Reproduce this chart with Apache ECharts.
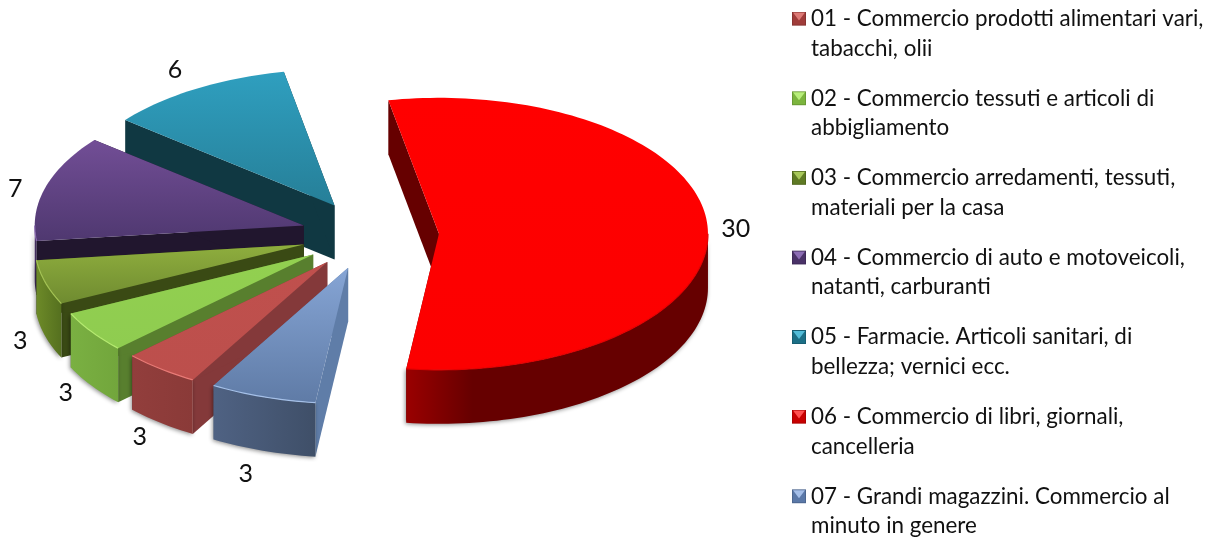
<!DOCTYPE html>
<html><head><meta charset="utf-8">
<script src="https://cdn.jsdelivr.net/npm/echarts@6/dist/echarts.min.js"></script>
<style>html,body{margin:0;padding:0;background:#fff}#c{width:1216px;height:543px}</style>
</head><body><div id="c"></div>
<script>
var CATEGORIES = [
  "01 - Commercio prodotti alimentari vari,\ntabacchi, olii",
  "02 - Commercio tessuti e articoli di\nabbigliamento",
  "03 - Commercio arredamenti, tessuti,\nmateriali per la casa",
  "04 - Commercio di auto e motoveicoli,\nnatanti, carburanti",
  "05 - Farmacie. Articoli sanitari, di\nbellezza; vernici ecc.",
  "06 - Commercio di libri, giornali,\ncancelleria",
  "07 - Grandi magazzini. Commercio al\nminuto in genere"
];
// Slice sizes; the labels show them rounded.
var VALUES = [2.5, 2.7, 2.9, 6.9, 6.1, 30.0, 3.49];

// styling and layout
var TOP_HI   = ['#c0504d','#92d050','#8fae3e','#724e96','#2f9fbf','#ff0000','#86a5d5'];
var TOP_LO   = ['#bc4f4c','#8fcc50','#6f8b30','#4f3870','#267f98','#fc0000','#5f7ba6'];
var EDGE     = ['#e87a76','#b5ea70','#a5c455','#8a6ab0','#50b8d5','#e40000','#a5c0e8'];
var CUT_WALL = ['#84393a','#587f2e','#3a4a14','#21162e','#103842','#660000','#5f7da8'];
var ARC_L    = ['#923e3c','#7ab042','#6d8a28','#4a3268','#1a5566','#9a0000','#4f6283'];
var ARC_R    = ['#8a3a38','#72a63c','#55701f','#3a2852','#143f4c','#660000','#3f4f68'];
var ICON_BODY= ['#a03c3a','#7cb53e','#5f7a24','#4a3268','#1c6f86','#c80000','#5a78a8'];
var ICON_TRI = ['#dd7a76','#b8ee7a','#a8c85a','#8c6cb4','#52bcd8','#ff5050','#a4bee8'];
var LABEL_NUDGE = [[-21,68],[-26,61],[-25,59],[-30,1],[-21,-19],[28,0],[-17,77]];
var CX = 370, CY = 235, RX = 269, RY = 136, EXPLODE = 69, DEPTH = 54, FIRST_ANGLE = 210;

var TOTAL = VALUES.reduce(function (a, b) { return a + b; }, 0);
var DRAW_ORDER = [5, 4, 3, 2, 1, 0, 6];   // back to front, by series index

function pt(ox, oy, deg) {
  var a = deg * Math.PI / 180;
  return [ox + RX * Math.sin(a), oy - RY * Math.cos(a)];
}
function arc(ox, oy, a0, a1) {
  var out = [], n = Math.max(2, Math.ceil(Math.abs(a1 - a0) / 1.5));
  for (var i = 0; i <= n; i++) out.push(pt(ox, oy, a0 + (a1 - a0) * i / n));
  return out;
}
function shift(p) { return [p[0], p[1] + DEPTH]; }
function sliceItem(idx) {
  return function (params, api) {
    var before = VALUES.slice(0, idx).reduce(function (a, b) { return a + b; }, 0);
    var a0 = FIRST_ANGLE + before / TOTAL * 360;
    var a1 = a0 + api.value(0) / TOTAL * 360;
    var mid = (a0 + a1) / 2, m = mid * Math.PI / 180;
    var ox = CX + EXPLODE * Math.sin(m), oy = CY - EXPLODE * 0.5 * Math.cos(m);
    var apex = [ox, oy], s = pt(ox, oy, a0), e = pt(ox, oy, a1);
    var kids = [];
    function wall(p, q, fill) {
      kids.push({type: 'polygon', shape: {points: [p, q, shift(q), shift(p)]}, style: {fill: fill}});
    }
    wall(apex, s, CUT_WALL[idx]);
    wall(apex, e, CUT_WALL[idx]);
    // front-facing part of the rim
    var f0 = Math.max(a0, 90), f1 = Math.min(a1, 270);
    var f0b = Math.max(a0 - 360, 90), f1b = Math.min(a1 - 360, 270);
    if (f0b < f1b) { f0 = f0b; f1 = f1b; }
    if (f0 < f1) {
      var rim = arc(ox, oy, f0, f1);
      var stops = idx === 5
        ? [{offset: 0, color: ARC_L[idx]}, {offset: 0.22, color: ARC_R[idx]}, {offset: 1, color: ARC_R[idx]}]
        : [{offset: 0, color: ARC_L[idx]}, {offset: 1, color: ARC_R[idx]}];
      kids.push({
        type: 'polygon',
        shape: {points: rim.concat(rim.map(shift).reverse())},
        style: {
          fill: new echarts.graphic.LinearGradient(0, 0, 1, 0, stops),
          shadowBlur: 4, shadowColor: 'rgba(0,0,0,0.45)', shadowOffsetX: -1, shadowOffsetY: 1
        }
      });
    }
    var top = arc(ox, oy, a0, a1);
    kids.push({
      type: 'polygon',
      shape: {points: [apex].concat(top)},
      style: {fill: new echarts.graphic.LinearGradient(0, 0, 0, 1, [
        {offset: 0, color: TOP_HI[idx]}, {offset: 1, color: TOP_LO[idx]}])}
    });
    if (f0 < f1) {
      kids.push({type: 'polyline', shape: {points: arc(ox, oy, f0, f1)},
        style: {stroke: EDGE[idx], lineWidth: 1.2, fill: null}});
    }
    var lp = pt(ox, oy, mid);
    kids.push({
      type: 'text',
      style: {
        text: String(Math.round(api.value(0))),
        x: lp[0] + LABEL_NUDGE[idx][0], y: lp[1] + LABEL_NUDGE[idx][1],
        fill: '#111', fontFamily: 'Lato', fontSize: 25,
        align: 'center', verticalAlign: 'middle'
      }
    });
    return {type: 'group', children: kids};
  };
}
function iconFor(i) {
  var svg = '<svg xmlns="http://www.w3.org/2000/svg" width="14" height="44" viewBox="0 0 14 44" preserveAspectRatio="none">' +
    '<rect x="0" y="0" width="14" height="14" fill="' + ICON_BODY[i] + '"/>' +
    '<polygon points="1,1 13,1 7,9" fill="' + ICON_TRI[i] + '"/>' +
    '<rect x="0.5" y="0.5" width="13" height="13" fill="none" stroke="#000" stroke-opacity="0.15"/></svg>';
  return 'image://data:image/svg+xml;charset=utf-8,' + encodeURIComponent(svg);
}

var chart = echarts.init(document.getElementById('c'), null, {renderer: 'canvas'});
chart.setOption({
  animation: false,
  backgroundColor: '#fff',
  legend: {
    orient: 'vertical', left: 792, top: 4,
    itemWidth: 14, itemHeight: 44, itemGap: 20.4, padding: 0,
    selectedMode: false,
    textStyle: {fontFamily: 'Lato', fontSize: 22.4, lineHeight: 29.6, color: '#111'},
    data: CATEGORIES.map(function (n, i) { return {name: n, icon: iconFor(i)}; })
  },
  series: CATEGORIES.map(function (n, i) {
    return {
      type: 'custom', name: n, coordinateSystem: 'none', silent: true,
      z: 2 + DRAW_ORDER.indexOf(i),
      itemStyle: {color: TOP_HI[i]},
      renderItem: sliceItem(i),
      data: [{name: n, value: VALUES[i]}]
    };
  })
});
</script></body></html>
